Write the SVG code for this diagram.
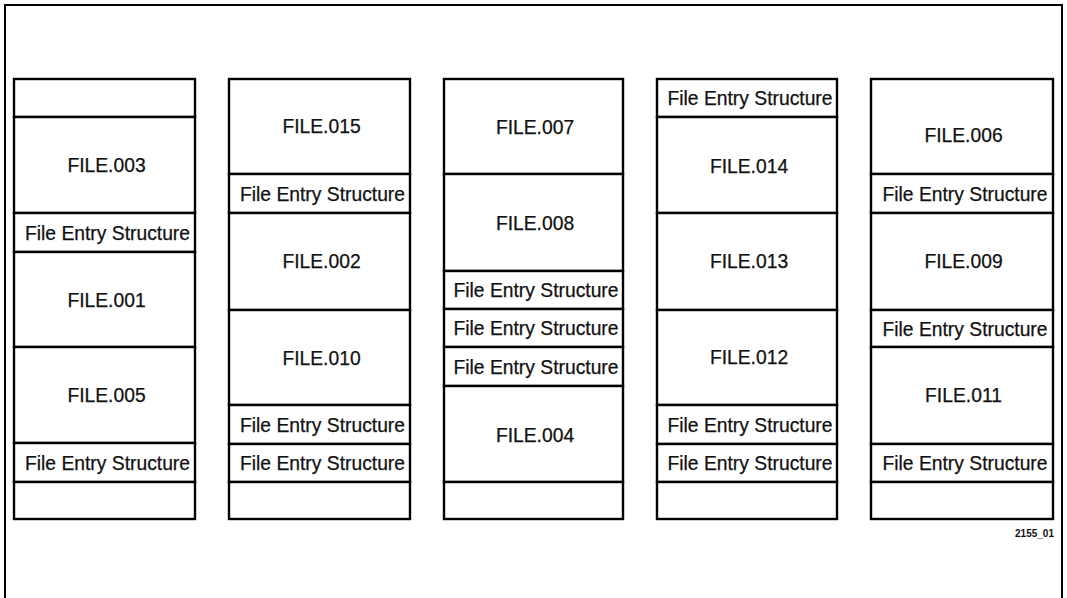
<svg xmlns="http://www.w3.org/2000/svg" width="1067" height="598" viewBox="0 0 1067 598">
<style>
.frame{fill:#fff;stroke:#000;stroke-width:2}
.cell{fill:#fff;stroke:#000;stroke-width:2.4}
.t{font-family:"Liberation Sans",Arial,sans-serif;font-size:19.3px;fill:#111;stroke:#111;stroke-width:0.25;text-anchor:middle}
.id{font-family:"Liberation Sans",Arial,sans-serif;font-size:10px;font-weight:bold;fill:#111;text-anchor:end}
</style>
<rect class="frame" x="5" y="5" width="1057" height="605"/>
<g id="connectors"/>
<g id="col1">
<g id="c1r0"><rect class="cell" x="14" y="79" width="181" height="38"/></g>
<g id="c1r1"><rect class="cell" x="14" y="117" width="181" height="96"/><text class="t" x="106.5" y="172">FILE.003</text></g>
<g id="c1r2"><rect class="cell" x="14" y="213" width="181" height="39"/><text class="t" x="107.5" y="239.5">File Entry Structure</text></g>
<g id="c1r3"><rect class="cell" x="14" y="252" width="181" height="95"/><text class="t" x="106.5" y="307">FILE.001</text></g>
<g id="c1r4"><rect class="cell" x="14" y="347" width="181" height="96"/><text class="t" x="106.5" y="402">FILE.005</text></g>
<g id="c1r5"><rect class="cell" x="14" y="443" width="181" height="39"/><text class="t" x="107.5" y="469.5">File Entry Structure</text></g>
<g id="c1r6"><rect class="cell" x="14" y="482" width="181" height="37"/></g>
</g>
<g id="col2">
<g id="c2r0"><rect class="cell" x="229" y="79" width="181" height="95"/><text class="t" x="321.5" y="133">FILE.015</text></g>
<g id="c2r1"><rect class="cell" x="229" y="174" width="181" height="39"/><text class="t" x="322.5" y="200.5">File Entry Structure</text></g>
<g id="c2r2"><rect class="cell" x="229" y="213" width="181" height="97"/><text class="t" x="321.5" y="268">FILE.002</text></g>
<g id="c2r3"><rect class="cell" x="229" y="310" width="181" height="95"/><text class="t" x="321.5" y="365">FILE.010</text></g>
<g id="c2r4"><rect class="cell" x="229" y="405" width="181" height="39"/><text class="t" x="322.5" y="431.5">File Entry Structure</text></g>
<g id="c2r5"><rect class="cell" x="229" y="444" width="181" height="38"/><text class="t" x="322.5" y="470">File Entry Structure</text></g>
<g id="c2r6"><rect class="cell" x="229" y="482" width="181" height="37"/></g>
</g>
<g id="col3">
<g id="c3r0"><rect class="cell" x="444" y="79" width="179" height="95"/><text class="t" x="535" y="134">FILE.007</text></g>
<g id="c3r1"><rect class="cell" x="444" y="174" width="179" height="97"/><text class="t" x="535" y="230">FILE.008</text></g>
<g id="c3r2"><rect class="cell" x="444" y="271" width="179" height="38"/><text class="t" x="536" y="297">File Entry Structure</text></g>
<g id="c3r3"><rect class="cell" x="444" y="309" width="179" height="38"/><text class="t" x="536" y="335">File Entry Structure</text></g>
<g id="c3r4"><rect class="cell" x="444" y="347" width="179" height="39"/><text class="t" x="536" y="373.5">File Entry Structure</text></g>
<g id="c3r5"><rect class="cell" x="444" y="386" width="179" height="96"/><text class="t" x="535" y="442">FILE.004</text></g>
<g id="c3r6"><rect class="cell" x="444" y="482" width="179" height="37"/></g>
</g>
<g id="col4">
<g id="c4r0"><rect class="cell" x="657" y="79" width="180" height="38"/><text class="t" x="750" y="105">File Entry Structure</text></g>
<g id="c4r1"><rect class="cell" x="657" y="117" width="180" height="96"/><text class="t" x="749" y="173">FILE.014</text></g>
<g id="c4r2"><rect class="cell" x="657" y="213" width="180" height="97"/><text class="t" x="749" y="268">FILE.013</text></g>
<g id="c4r3"><rect class="cell" x="657" y="310" width="180" height="95"/><text class="t" x="749" y="364">FILE.012</text></g>
<g id="c4r4"><rect class="cell" x="657" y="405" width="180" height="39"/><text class="t" x="750" y="431.5">File Entry Structure</text></g>
<g id="c4r5"><rect class="cell" x="657" y="444" width="180" height="38"/><text class="t" x="750" y="470">File Entry Structure</text></g>
<g id="c4r6"><rect class="cell" x="657" y="482" width="180" height="37"/></g>
</g>
<g id="col5">
<g id="c5r0"><rect class="cell" x="871" y="79" width="182" height="95"/><text class="t" x="963.5" y="142">FILE.006</text></g>
<g id="c5r1"><rect class="cell" x="871" y="174" width="182" height="39"/><text class="t" x="965" y="200.5">File Entry Structure</text></g>
<g id="c5r2"><rect class="cell" x="871" y="213" width="182" height="97"/><text class="t" x="963.5" y="268">FILE.009</text></g>
<g id="c5r3"><rect class="cell" x="871" y="310" width="182" height="37"/><text class="t" x="965" y="335.5">File Entry Structure</text></g>
<g id="c5r4"><rect class="cell" x="871" y="347" width="182" height="97"/><text class="t" x="963.5" y="402">FILE.011</text></g>
<g id="c5r5"><rect class="cell" x="871" y="444" width="182" height="38"/><text class="t" x="965" y="470">File Entry Structure</text></g>
<g id="c5r6"><rect class="cell" x="871" y="482" width="182" height="37"/></g>
</g>
<text class="id" x="1054" y="537">2155_01</text>
</svg>
